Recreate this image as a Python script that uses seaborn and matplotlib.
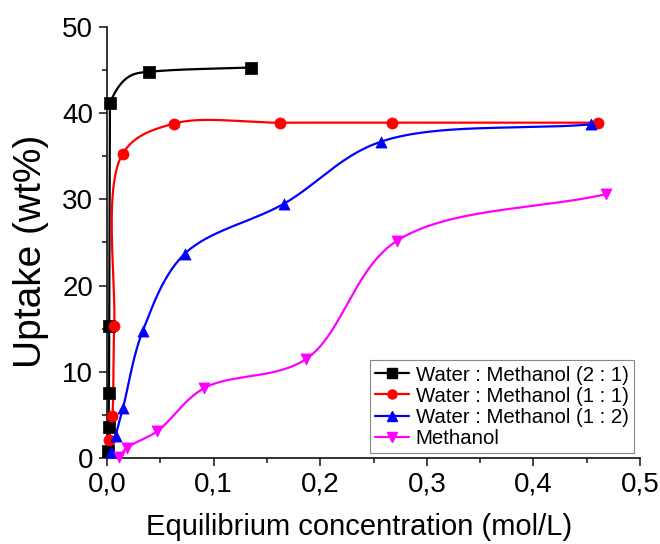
import numpy as np
import pandas as pd
import matplotlib
matplotlib.use("Agg")
import matplotlib.pyplot as plt
from matplotlib.lines import Line2D
from matplotlib.ticker import MultipleLocator, FixedLocator, FixedFormatter
import seaborn as sns

# ---------------- data ----------------
x_21 = [0.0012, 0.0015, 0.0018, 0.0021, 0.0028, 0.039, 0.135]
y_21 = [0.8, 3.6, 7.5, 15.3, 41.2, 44.8, 45.3]

x_11 = [0.002, 0.005, 0.0068, 0.0147, 0.063, 0.162, 0.267, 0.461]
y_11 = [2.1, 4.9, 15.3, 35.3, 38.8, 38.9, 38.9, 38.9]

x_12 = [0.004, 0.008, 0.015, 0.0334, 0.073, 0.166, 0.257, 0.454]
y_12 = [0.7, 2.6, 5.8, 14.7, 23.7, 29.5, 36.7, 38.7]

x_m = [0.011, 0.019, 0.047, 0.091, 0.187, 0.272, 0.468]
y_m = [0.1, 1.2, 3.1, 8.1, 11.5, 25.2, 30.6]

series_names = ["Water : Methanol (2 : 1)", "Water : Methanol (1 : 1)",
                "Water : Methanol (1 : 2)", "Methanol"]
x_ticks = [0.0, 0.1, 0.2, 0.3, 0.4, 0.5]
x_tick_labels = ["0,0", "0,1", "0,2", "0,3", "0,4", "0,5"]
y_ticks = [0, 10, 20, 30, 40, 50]
y_tick_labels = ["0", "10", "20", "30", "40", "50"]

colors = ["#000000", "#ff0000", "#0000ff", "#ff00ff"]
markers = ["s", "o", "^", "v"]
curve_kind = ["pchip", "cr", "cr", "cr"]

# ---------------- style ----------------
sns.set_style("ticks")
plt.rcParams["font.family"] = ["Liberation Sans", "DejaVu Sans"]

fig = plt.figure(figsize=(6.6, 5.44), dpi=100)
ax = fig.add_axes([107 / 660, 1 - 458 / 544, (640 - 107) / 660, (458 - 27) / 544])
ax.set_xlim(0, 0.5)
ax.set_ylim(0, 50)


def catmull_rom(P, n=60, alpha=0.5):
    P = np.asarray(P, float)
    ext = np.vstack([2 * P[0] - P[1], P, 2 * P[-1] - P[-2]])
    out = []
    for i in range(1, len(ext) - 2):
        p0, p1, p2, p3 = ext[i - 1:i + 3]
        t0 = 0.0
        t1 = t0 + max(np.linalg.norm(p1 - p0), 1e-6) ** alpha
        t2 = t1 + max(np.linalg.norm(p2 - p1), 1e-6) ** alpha
        t3 = t2 + max(np.linalg.norm(p3 - p2), 1e-6) ** alpha
        t = np.linspace(t1, t2, n)[:, None]
        A1 = (t1 - t) / (t1 - t0) * p0 + (t - t0) / (t1 - t0) * p1
        A2 = (t2 - t) / (t2 - t1) * p1 + (t - t1) / (t2 - t1) * p2
        A3 = (t3 - t) / (t3 - t2) * p2 + (t - t2) / (t3 - t2) * p3
        B1 = (t2 - t) / (t2 - t0) * A1 + (t - t0) / (t2 - t0) * A2
        B2 = (t3 - t) / (t3 - t1) * A2 + (t - t1) / (t3 - t1) * A3
        C = (t2 - t) / (t2 - t1) * B1 + (t - t1) / (t2 - t1) * B2
        out.append(C if i == 1 else C[1:])
    return np.vstack(out)


def pchip(P, n=80):
    P = np.asarray(P, float)
    x, y = P[:, 0], P[:, 1]
    h = np.diff(x)
    d = np.diff(y) / h
    m = np.zeros_like(y)
    for k in range(1, len(x) - 1):
        if d[k - 1] * d[k] > 0:
            w1 = 2 * h[k] + h[k - 1]
            w2 = h[k] + 2 * h[k - 1]
            m[k] = (w1 + w2) / (w1 / d[k - 1] + w2 / d[k])
    m[0] = d[0]
    m[-1] = d[-1]
    out = []
    for k in range(len(x) - 1):
        t = np.linspace(0, 1, n)
        h00 = 2 * t**3 - 3 * t**2 + 1
        h10 = t**3 - 2 * t**2 + t
        h01 = -2 * t**3 + 3 * t**2
        h11 = t**3 - t**2
        yy = h00 * y[k] + h10 * h[k] * m[k] + h01 * y[k + 1] + h11 * h[k] * m[k + 1]
        xx = x[k] + t * h[k]
        seg = np.column_stack([xx, yy])
        out.append(seg if k == 0 else seg[1:])
    return np.vstack(out)


all_series = [(x_21, y_21), (x_11, y_11), (x_12, y_12), (x_m, y_m)]
frames = []
for name, (xs, ys) in zip(series_names, all_series):
    frames.append(pd.DataFrame({"x": xs, "y": ys, "series": name}))
df = pd.concat(frames, ignore_index=True)

# smooth curves computed in display space from the data
for name, col, kind, (xs, ys) in zip(series_names, colors, curve_kind, all_series):
    disp = ax.transData.transform(np.column_stack([xs, ys]))
    sm = pchip(disp) if kind == "pchip" else catmull_rom(disp)
    curve = ax.transData.inverted().transform(sm)
    cdf = pd.DataFrame({"x": curve[:, 0], "y": curve[:, 1]})
    sns.lineplot(data=cdf, x="x", y="y", sort=False, estimator=None,
                 color=col, lw=1.6, ax=ax, clip_on=False, zorder=2)

for name, col, mk in zip(series_names, colors, markers):
    sub = df[df["series"] == name]
    sns.scatterplot(data=sub, x="x", y="y", color=col, marker=mk, s=64,
                    edgecolor=col, linewidth=0.5, ax=ax, clip_on=False,
                    zorder=3, legend=False)

ax.set_xlim(0, 0.5)
ax.set_ylim(0, 50)
ax.xaxis.set_major_locator(FixedLocator(x_ticks))
ax.xaxis.set_major_formatter(FixedFormatter(x_tick_labels))
ax.yaxis.set_major_locator(FixedLocator(y_ticks))
ax.yaxis.set_major_formatter(FixedFormatter(y_tick_labels))
ax.xaxis.set_minor_locator(MultipleLocator(0.05))
ax.yaxis.set_minor_locator(MultipleLocator(5))
ax.tick_params(which="major", direction="out", length=6, width=1.1,
               labelsize=20, pad=4, color="#111111", labelcolor="black")
ax.tick_params(which="minor", direction="out", length=3.5, width=1.1,
               color="#111111")
sns.despine(ax=ax)
for s in ["left", "bottom"]:
    ax.spines[s].set_linewidth(1.2)
    ax.spines[s].set_color("#111111")

ax.set_xlabel("Equilibrium concentration (mol/L)", fontsize=21, color="black")
ax.xaxis.set_label_coords(0.472, -0.128)
ax.set_ylabel("Uptake (wt%)", fontsize=28, color="black")
ax.yaxis.set_label_coords(-0.108, 0.48)

handles = [Line2D([0], [0], color=c, marker=m, lw=1.6, markersize=6.5)
           for c, m in zip(colors, markers)]
leg = ax.legend(handles, series_names, loc="lower right",
                bbox_to_anchor=(0.988, 0.012), fontsize=14.7, frameon=True,
                fancybox=False, edgecolor="#888888", framealpha=1,
                handlelength=1.7, handletextpad=0.3, borderpad=0.25,
                labelspacing=0.1, borderaxespad=0.0)
leg.get_frame().set_linewidth(0.8)
for t in leg.get_texts():
    t.set_color("black")

fig.savefig("out.png", dpi=100)
